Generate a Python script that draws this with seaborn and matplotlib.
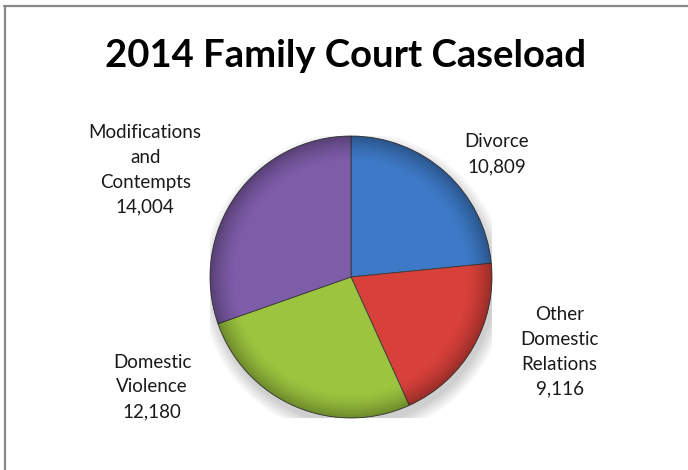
import numpy as np
import matplotlib
matplotlib.use("Agg")
import matplotlib.pyplot as plt
import seaborn as sns
from matplotlib.lines import Line2D
from matplotlib.patches import Circle

# ==============================
# DATA
# ==============================
categories = ["Divorce", "Other\nDomestic\nRelations", "Domestic\nViolence", "Modifications\nand\nContempts"]
cases = [10809, 9116, 12180, 14004]
slice_colors = ["#3D79C6", "#D8403A", "#9CC43F", "#7D5CA8"]
title = "2014 Family Court Caseload"

# label centres relative to pie radius (Excel "best fit" placement)
label_pos = [(1.035, 0.87), (1.48, -0.53), (-1.41, -0.78), (-1.46, 0.76)]

# ==============================
# STYLE
# ==============================
sns.set_theme(style="white")
plt.rcParams["font.family"] = ["Lato", "DejaVu Sans"]

fig = plt.figure(figsize=(6.88, 4.70), dpi=100)
fig.patch.set_facecolor("white")

# pie axes: centre (351, 277) px, radius 141 px
W, H = 688, 470
cx, cy, r = 351, 277, 141
ax = fig.add_axes([(cx - r) / W, (H - cy - r) / H, 2 * r / W, 2 * r / H])

# soft shadow under the pie
for k in range(8):
    ax.add_patch(Circle((0.02, -0.05), 1.0 + 0.012 * k, color="black",
                        alpha=0.025, zorder=0, lw=0))

wedges, _ = ax.pie(
    cases,
    colors=slice_colors,
    startangle=90,
    counterclock=False,
    radius=1.0,
    wedgeprops=dict(edgecolor="#3a3a3a", linewidth=0.6),
)
for w in wedges:
    w.set_zorder(2)

# bevel-like shading: darker rim
n = 400
xs = np.linspace(-1, 1, n)
X, Y = np.meshgrid(xs, xs)
R = np.sqrt(X ** 2 + Y ** 2)
shade = np.zeros((n, n, 4))
rim = np.clip((R - 0.82) / 0.18, 0, 1) ** 1.5
shade[..., 3] = 0.30 * rim
img = ax.imshow(shade, extent=(-1, 1, -1, 1), origin="lower", zorder=3,
                interpolation="bilinear")
img.set_clip_path(Circle((0, 0), 1.0, transform=ax.transData))

ax.set_xlim(-1, 1)
ax.set_ylim(-1, 1)
ax.set_aspect("equal")
ax.axis("off")

# labels
for name, val, (lx, ly) in zip(categories, cases, label_pos):
    ax.text(lx, ly, f"{name}\n{val:,}", ha="center", va="center",
            multialignment="center", fontsize=13.5, color="#1a1a1a",
            linespacing=1.55, clip_on=False)

# title
fig.text(346 / W, 1 - 67 / H, title, ha="center", va="baseline",
         fontsize=27.5, fontweight="bold", color="black")

# chart border (top and left visible)
fig.add_artist(Line2D([4 / W, 1.0], [1 - 6 / H, 1 - 6 / H], color="#888888", lw=1.6))
fig.add_artist(Line2D([4.5 / W, 4.5 / W], [0.0, 1 - 6 / H], color="#888888", lw=1.6))

fig.savefig("out.png", dpi=100, facecolor="white")
